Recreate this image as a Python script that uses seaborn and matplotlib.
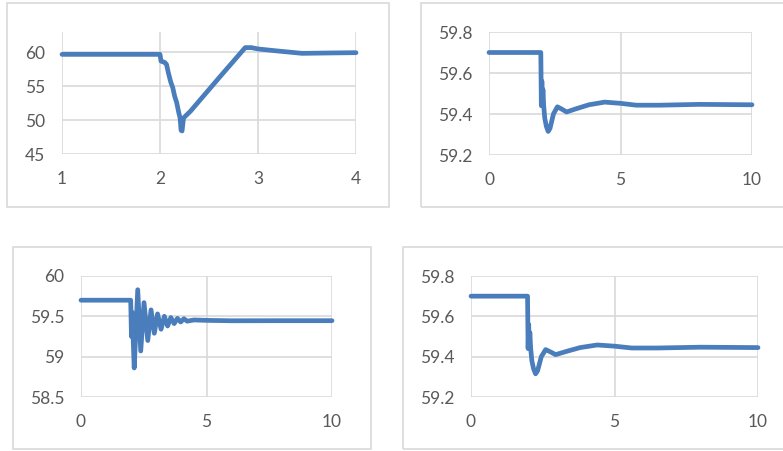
import matplotlib.pyplot as plt
import matplotlib.patches as mpatches
import matplotlib.ticker as mticker
import pandas as pd
import seaborn as sns

# panel 1: speed transient, t = 1..4 s
t1 = [1.0, 2.0, 2.01, 2.03, 2.05, 2.067, 2.085, 2.11, 2.13, 2.15, 2.17, 2.19, 2.205,
      2.215, 2.225, 2.24, 2.26, 2.31, 2.6, 2.87, 2.93, 3.0, 3.2, 3.45, 3.7, 4.0]
f1 = [59.7, 59.7, 58.7, 58.6, 58.5, 58.2, 57.0, 55.6, 54.8, 53.5, 52.6, 51.2, 50.3,
      48.5, 48.4, 50.3, 50.6, 51.3, 56.2, 60.7, 60.7, 60.5, 60.2, 59.85, 59.9, 59.95]

# panel 2 / panel 4: frequency, t = 0..10 s
t2 = [0.0, 1.97, 1.99, 2.01, 2.03, 2.05, 2.08, 2.12, 2.18, 2.25, 2.32, 2.45, 2.6,
      2.75, 2.95, 3.3, 3.8, 4.4, 5.0, 5.6, 6.5, 8.0, 10.0]
f2 = [59.7, 59.7, 59.44, 59.56, 59.45, 59.52, 59.44, 59.38, 59.34, 59.315, 59.33,
      59.40, 59.435, 59.425, 59.41, 59.425, 59.445, 59.458, 59.452, 59.443, 59.443,
      59.447, 59.445]

# panel 3: oscillating frequency, t = 0..10 s
t3 = [0.0, 1.98, 2.01, 2.04, 2.07, 2.12, 2.26, 2.38, 2.51, 2.66, 2.79, 2.92, 3.05,
      3.19, 3.32, 3.45, 3.58, 3.71, 3.84, 3.97, 4.10, 4.23, 4.5, 5.0, 6.0, 8.0, 10.0]
f3 = [59.7, 59.7, 59.25, 59.55, 59.3, 58.86, 59.83, 59.07, 59.67, 59.20, 59.58, 59.29,
      59.53, 59.34, 59.50, 59.38, 59.485, 59.41, 59.475, 59.43, 59.47, 59.44, 59.455,
      59.45, 59.445, 59.446, 59.446]

sns.set_theme(style="white")
plt.rcParams["font.family"] = ["Lato", "DejaVu Sans"]

W, H = 783, 451
fig = plt.figure(figsize=(W / 100, H / 100), dpi=100)
blue = "#4a7dbb"
grid = "#d9d9d9"


def frame(x0, y0, x1, y1):
    fig.patches.append(mpatches.Rectangle(
        (x0 / W, 1 - y1 / H), (x1 - x0) / W, (y1 - y0) / H,
        transform=fig.transFigure, fill=False, edgecolor=grid, linewidth=1.2))


def panel(box, t, f, xlim, xticks, ylim, yticks):
    x0, x1, ytop, ybot = box
    ax = fig.add_axes([x0 / W, 1 - ybot / H, (x1 - x0) / W, (ybot - ytop) / H])
    df = pd.DataFrame({"t": t, "f": f})
    sns.lineplot(data=df, x="t", y="f", ax=ax, color=blue, linewidth=3.4,
                 solid_joinstyle="round", solid_capstyle="round", clip_on=False)
    ax.set_xlim(*xlim)
    ax.set_ylim(*ylim)
    ax.set_xticks(xticks)
    ax.set_yticks(yticks)
    ax.yaxis.set_major_formatter(mticker.FuncFormatter(lambda v, p: f"{v:g}"))
    ax.set_xlabel("")
    ax.set_ylabel("")
    ax.set_axisbelow(True)
    ax.grid(True, color=grid, linewidth=1.2)
    for s in ax.spines.values():
        s.set_visible(False)
    ax.tick_params(length=0, labelsize=12.5, labelcolor="#595959", pad=12)
    return ax


frame(7.5, 3, 389, 207)
frame(421, 3, 790, 207)
frame(13, 247, 371, 449)
frame(403, 247, 790, 449)

panel((62, 356, 32, 154), t1, f1, (1, 4), [1, 2, 3, 4], (45, 63), [45, 50, 55, 60])
panel((489, 752, 32, 155), t2, f2, (0, 10), [0, 5, 10], (59.2, 59.8),
      [59.2, 59.4, 59.6, 59.8])
panel((81, 332, 276, 397), t3, f3, (0, 10), [0, 5, 10], (58.5, 60),
      [58.5, 59, 59.5, 60])
panel((471, 758, 276, 397), t2, f2, (0, 10), [0, 5, 10], (59.2, 59.8),
      [59.2, 59.4, 59.6, 59.8])

fig.savefig("out.png", dpi=100)
